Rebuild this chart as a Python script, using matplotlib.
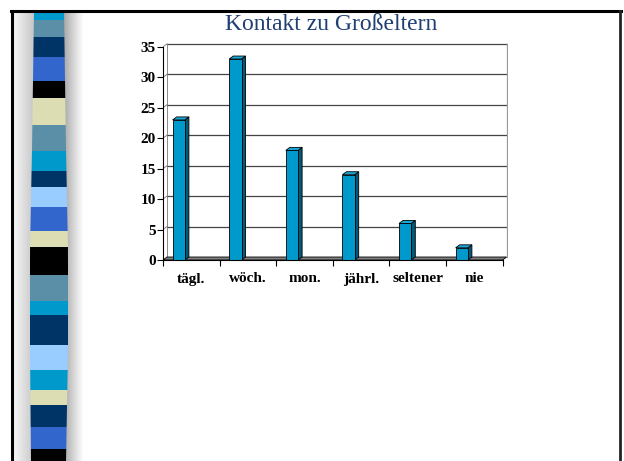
import matplotlib
import numpy as np

matplotlib.use("Agg")
import matplotlib.pyplot as plt
from matplotlib.patches import Polygon

# chart data
categories = ["tägl.", "wöch.", "mon.", "jährl.", "seltener", "nie"]
values = [23, 33, 18, 14, 6, 2]
y_ticks = [0, 5, 10, 15, 20, 25, 30, 35]
title = "Kontakt zu Großeltern"

# decorative strip on the left of the slide: (top, bottom, colour)
strip_blocks = [
    (12, 20, "#0099CC"), (20, 37, "#5B8FA8"), (37, 57, "#003366"),
    (57, 81, "#3366CC"), (81, 98, "#000000"), (98, 125, "#DDDDB3"),
    (125, 151, "#5B8FA8"), (151, 171, "#0099CC"), (171, 187, "#003366"),
    (187, 207, "#99CCFF"), (207, 231, "#3366CC"), (231, 247, "#DDDDB3"),
    (247, 275, "#000000"), (275, 301, "#5B8FA8"), (301, 315, "#0099CC"),
    (315, 345, "#003366"), (345, 370, "#99CCFF"), (370, 390, "#0099CC"),
    (390, 405, "#DDDDB3"), (405, 427, "#003366"), (427, 449, "#3366CC"),
    (449, 461, "#000000"),
]

W, H = 624, 461
SERIF = "Liberation Serif"

fig = plt.figure(figsize=(W / 100, H / 100), dpi=100)
fig.patch.set_facecolor("white")

# ---- slide background / frame ----
bg = fig.add_axes([0, 0, 1, 1], zorder=0)
bg.set_xlim(0, W)
bg.set_ylim(H, 0)
bg.axis("off")

# shadows beside the strip
left_grad = np.linspace(0.97, 0.78, 40).reshape(1, -1)
bg.imshow(left_grad, extent=(13, 34, H, 13), cmap="gray", vmin=0, vmax=1, aspect="auto")
right_grad = np.linspace(0.5, 1.0, 40).reshape(1, -1) ** 0.6
bg.imshow(right_grad, extent=(64, 84, H, 13), cmap="gray", vmin=0, vmax=1, aspect="auto")

prof_y = [12, 150, 250, 350, 461]
prof_l = [34, 32, 30, 30, 31]
prof_r = [64, 66, 68, 68, 66]
for top, bot, col in strip_blocks:
    l0, l1 = np.interp([top, bot], prof_y, prof_l)
    r0, r1 = np.interp([top, bot], prof_y, prof_r)
    bg.add_patch(Polygon([(l0, top), (r0, top), (r1, bot), (l1, bot)],
                         closed=True, facecolor=col, edgecolor="none"))

bg.plot([12, 12], [H, 11.5], color="black", lw=2.2)
bg.plot([11, 621], [11.5, 11.5], color="black", lw=2.2)
bg.plot([620, 620], [11, H], color="#222222", lw=2.0)

fig.text(331 / W, 1 - 25 / H, title, ha="center", va="center",
         fontsize=17, color="#1F3F73", family=SERIF)

# ---- chart ----
x0_px, y0_px = 163, 260
px_x, px_y = 56.6, 6.09
xmax, ymax = 6.1, 36
ax = fig.add_axes([x0_px / W, (H - y0_px) / H, xmax * px_x / W, ymax * px_y / H], zorder=1)
ax.set_xlim(0, xmax)
ax.set_ylim(0, ymax)
ax.patch.set_alpha(0)

dx, dy = 4 / px_x, 3 / px_y
n = len(categories)

# back wall grid and walls
for v in y_ticks[1:]:
    ax.plot([dx, n + dx], [v + dy, v + dy], color="#444444", lw=0.9, zorder=1)
    ax.plot([0, dx], [v, v + dy], color="#777777", lw=0.6, zorder=1)
ax.plot([dx, dx], [dy, y_ticks[-1] + dy], color="#777777", lw=0.6, zorder=1)
ax.plot([n + dx, n + dx], [dy, y_ticks[-1] + dy], color="#999999", lw=0.9, zorder=1)

# floor
ax.add_patch(Polygon([(0, 0), (n, 0), (n + dx, dy), (dx, dy)], closed=True,
                     facecolor="#808080", edgecolor="black", lw=0.6, zorder=2))

# bars
bar_left, bar_w = 0.17, 0.217
xs = np.arange(n) + bar_left
ax.bar(xs, values, width=bar_w, align="edge", color="#0099CC",
       edgecolor="black", linewidth=0.6, zorder=4)
for x, v in zip(xs, values):
    x1 = x + bar_w
    ax.add_patch(Polygon([(x1, 0), (x1 + dx, dy), (x1 + dx, v + dy), (x1, v)], closed=True,
                         facecolor="#005A78", edgecolor="black", lw=0.6, zorder=3))
    ax.add_patch(Polygon([(x, v), (x + dx, v + dy), (x1 + dx, v + dy), (x1, v)], closed=True,
                         facecolor="#1AA6D6", edgecolor="black", lw=0.6, zorder=5))

# axes, ticks, labels
for side in ("top", "right"):
    ax.spines[side].set_visible(False)
ax.spines["left"].set_bounds(0, y_ticks[-1])
ax.spines["bottom"].set_bounds(0, n)
ax.spines["left"].set_zorder(6)
ax.spines["bottom"].set_zorder(6)
ax.set_yticks(y_ticks)
ax.set_yticklabels([str(t) for t in y_ticks], fontsize=11, fontweight="bold", family=SERIF)
ax.set_xticks(range(n + 1))
ax.set_xticklabels([])
ax.set_xticks(np.arange(n) + 0.5, minor=True)
ax.set_xticklabels(categories, minor=True, fontsize=11, fontweight="bold", family=SERIF)
ax.tick_params(axis="x", which="major", direction="out", length=4, width=0.8)
ax.tick_params(axis="x", which="minor", length=0, pad=9)
ax.tick_params(axis="y", direction="out", length=4, width=0.8, pad=1)

fig.savefig("out.png", dpi=100)
